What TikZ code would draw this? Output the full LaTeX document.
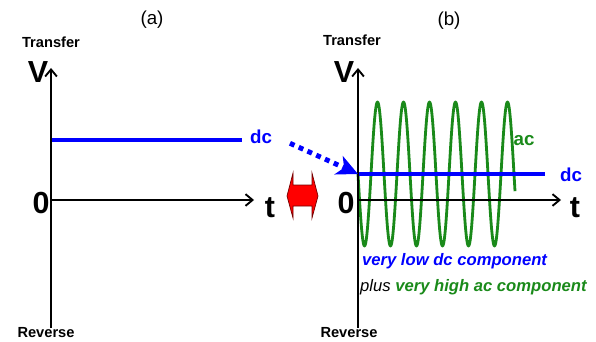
\documentclass[tikz,border=0pt]{standalone}
\usepackage{fontspec}
\setmainfont{Liberation Sans}
\usepackage{xcolor}
\usepackage{tikz}
\usetikzlibrary{
  arrows.meta,
  positioning,
}
\definecolor{dcblue}{HTML}{0000FF}
\definecolor{acgreen}{HTML}{1A8A1A}
\definecolor{swapred}{HTML}{FF0000}

\begin{document}
\begin{tikzpicture}[x=0.03cm, y=-0.03cm, >=Stealth,
  axis/.style={line width=1.6pt, -{Straight Barb[length=6pt,width=10pt]}},
  level/.style={dcblue, line width=3.6pt},
  bigsym/.style={font=\fontsize{26}{30}\selectfont\bfseries},
  ends/.style={font=\fontsize{12.5}{15}\selectfont\bfseries},
  curve/.style={font=\fontsize{16}{19}\selectfont\bfseries},
  note/.style={font=\fontsize{14.2}{17}\selectfont\bfseries\itshape}]
  \useasboundingbox (0,0) rectangle (596,342);

  % (a): dc only
  \node[font=\fontsize{16}{19}\selectfont] (capA) at (152,20) {(a)};
  \coordinate (oA)   at (51,200);
  \coordinate (topA) at (51,68);
  \coordinate (botA) at (51,328);
  \coordinate (endA) at (254,200);
  \coordinate (dcA0) at (51,140);
  \coordinate (dcA1) at (242,140);
  \draw[level] (dcA0) -- (dcA1);
  \draw[axis] (botA) -- (topA);
  \draw[axis] (oA) -- (endA);
  \node[ends] (trA) at (51,42)  {Transfer};
  \node[ends] (rvA) at (46,333) {Reverse};
  \node[bigsym] (vA) at (38,72)  {V};
  \node[bigsym] (zA) at (41,203) {0};
  \node[bigsym] (tA) at (270,208) {t};
  \node[curve, dcblue] (dcA) at (261,137) {dc};

  % (b): dc plus ac
  \node[font=\fontsize{16}{19}\selectfont] (capB) at (449,21) {(b)};
  \coordinate (oB)   at (358,200);
  \coordinate (topB) at (358,68);
  \coordinate (botB) at (358,328);
  \coordinate (endB) at (561,200);
  \coordinate (dcB0) at (358,174);
  \coordinate (dcB1) at (545,174);
  \draw[acgreen, line width=2.4pt, line join=round] plot[domain=0:157, samples=315]
    ({358+\x}, {174+72*sin(13.846*\x)});
  \draw[level] (dcB0) -- (dcB1);
  \draw[axis] (botB) -- (topB);
  \draw[axis] (oB) -- (endB);
  \node[ends] (trB) at (352,40)  {Transfer};
  \node[ends] (rvB) at (349,333) {Reverse};
  \node[bigsym] (vB) at (344,72)  {V};
  \node[bigsym] (zB) at (346,203) {0};
  \node[bigsym] (tB) at (575,208) {t};
  \node[curve, acgreen] (acB) at (524,141) {ac};
  \node[curve, dcblue] (dcB) at (571,175) {dc};
  \node[note, dcblue, anchor=west] (lowB) at (358,261) {very low dc component};
  \node[note, anchor=west] (highB) at (356,287)
    {{\mdseries plus} \textcolor{acgreen}{very high ac component}};

  % dc carried over, and the swap
  \draw[dcblue, line width=4.2pt, dash pattern=on 4.2pt off 4pt,
        -{Stealth[length=18pt,width=17pt,inset=5pt]}, shorten <=13pt, shorten >=0pt]
    (dcA.east) -- (dcB0);
  \draw[draw=red!45!black, fill=swapred, line width=0.6pt]
    (287,196) -- (293,173) -- (293,185) -- (312,185) -- (312,173)
    -- (318,196) -- (312,218) -- (312,206) -- (293,206) -- (293,218) -- cycle;
\end{tikzpicture}
\end{document}
